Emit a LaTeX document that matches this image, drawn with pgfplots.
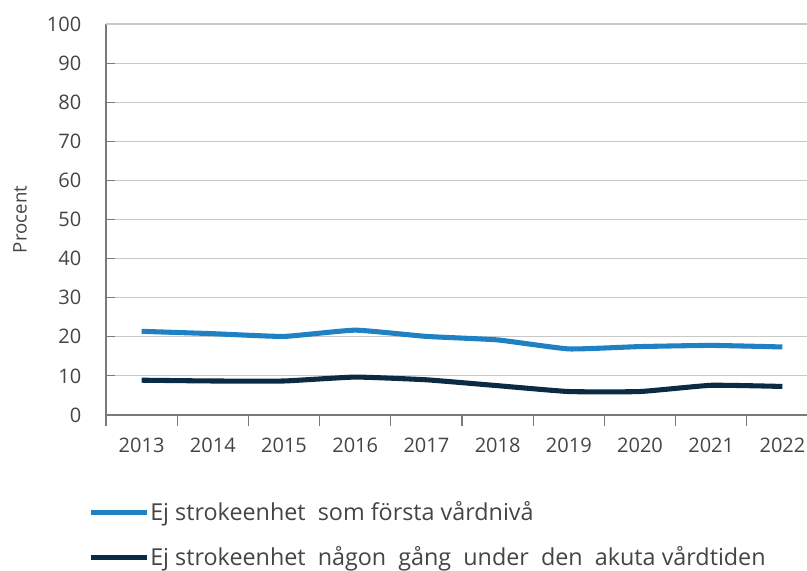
\documentclass[border=0pt]{standalone}
\usepackage{fontspec}
\setmainfont{Open Sans}
\usepackage{pgfplots}
\pgfplotsset{compat=1.18}
\definecolor{lblue}{HTML}{1F80C4}
\definecolor{dnavy}{HTML}{0B2B45}
\definecolor{txt}{HTML}{444444}
\definecolor{gridc}{HTML}{C8C8C8}
\definecolor{axc}{HTML}{7A7A7A}
\begin{document}
\begin{tikzpicture}
\useasboundingbox (0,0) rectangle (605.25pt,428.25pt);
\begin{axis}[
  at={(79.5pt,117pt)}, anchor=south west,
  scale only axis, width=525.75pt, height=293.25pt,
  xmin=-0.5, xmax=9.345, ymin=0, ymax=100,
  axis x line*=bottom, axis y line*=left,
  axis line style={draw=axc, line width=0.8pt},
  xtick={0,...,9},
  xticklabels={2013,2014,2015,2016,2017,2018,2019,2020,2021,2022},
  major x tick style={draw=none},
  minor xtick={-0.5,0.5,...,8.5},
  minor tick length=8pt,
  minor x tick style={draw=axc, line width=0.8pt},
  xtick align=outside,
  ytick={0,10,...,100},
  ytick align=inside,
  major tick length=6.75pt,
  major y tick style={draw=axc, line width=0.8pt},
  ymajorgrids, grid style={draw=gridc, line width=0.8pt},
  clip=false,
  tick label style={font=\fontsize{15pt}{18pt}\selectfont, text=txt},
  /pgf/number format/assume math mode=true,
  xticklabel style={yshift=-7pt},
  yticklabel style={xshift=-15pt},
  ylabel={Procent},
  ylabel style={font=\fontsize{14pt}{17pt}\selectfont, text=txt, at={(rel axis cs:0,0.5)}, anchor=center, yshift=64.5pt},
  legend style={at={(rel axis cs:0,0)}, anchor=north west, xshift=-13.5pt, yshift=-64pt,
    draw=none, fill=none, font=\fontsize{17.5pt}{20pt}\selectfont, text=txt,
    row sep=16pt, inner sep=0pt, nodes={inner sep=1pt}},
  legend cell align=left,
  legend image code/.code={\draw[#1, line width=3.5pt] (0pt,0pt) -- (42pt,0pt);},
]
\draw[gridc, line width=0.8pt] (rel axis cs:0,1) -- (rel axis cs:1,1);
\addplot[lblue, line width=3.8pt, smooth, tension=0.25] coordinates {
 (0,21.4) (1,20.8) (2,20.1) (3,21.7) (4,20.1) (5,19.2) (6,16.9) (7,17.5) (8,17.8) (9,17.4)};
\addlegendentry{Ej strokeenhet\ \ som första vårdnivå}
\addplot[dnavy, line width=3.8pt, smooth, tension=0.25] coordinates {
 (0,8.9) (1,8.7) (2,8.7) (3,9.7) (4,9.0) (5,7.5) (6,6.0) (7,6.0) (8,7.6) (9,7.3)};
\addlegendentry{Ej strokeenhet\ \ någon\ \ gång\ \ under\ \ den\ \ akuta\ vårdtiden}
\end{axis}
\end{tikzpicture}
\end{document}
